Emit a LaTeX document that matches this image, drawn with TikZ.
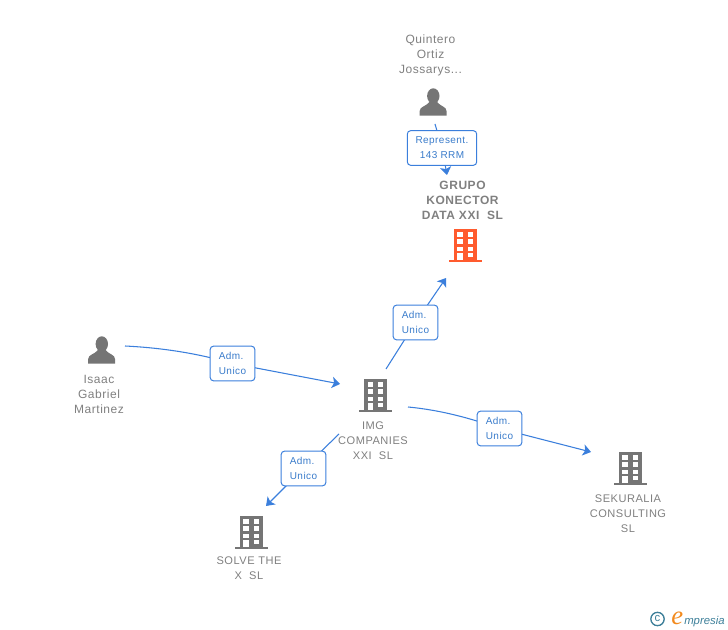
\documentclass[tikz,border=0pt]{standalone}
\usepackage{fontspec}
\setmainfont{Liberation Sans}
\newfontfamily\spacedfont[LetterSpace=4.5]{Liberation Sans}
\newfontfamily\logofont{Liberation Serif}
\usetikzlibrary{arrows.meta}
\definecolor{linkblue}{HTML}{3B7FDC}
\definecolor{labblue}{HTML}{3A7CCB}
\definecolor{icongray}{HTML}{757575}
\definecolor{txtgray}{HTML}{808080}
\definecolor{hot}{HTML}{FF5B2E}
\definecolor{logoteal}{HTML}{3D7F99}
\definecolor{logoorange}{HTML}{F28A1E}
\tikzset{
  conn/.style={draw=linkblue,line width=0.8pt},
  connar/.style={conn,-{Stealth[length=6pt,width=8.5pt,inset=1.5pt]}},
  lab/.style={draw=linkblue,line width=0.75pt,rounded corners=2.5pt,fill=white,text=labblue,
    font=\spacedfont\fontsize{7.5}{11.2}\selectfont,align=left,minimum height=26pt,inner sep=0pt,minimum width=33.5pt},
  labc/.style={lab,align=center,minimum width=52pt},
  pname/.style={text=txtgray,font=\spacedfont\fontsize{9}{11.25}\selectfont,align=center,inner sep=0pt},
  bname/.style={text=txtgray,font=\spacedfont\fontsize{9}{11.25}\selectfont\bfseries,align=center,inner sep=0pt},
  dname/.style={text=txtgray,font=\spacedfont\fontsize{8.3}{11.25}\selectfont,align=center,inner sep=0pt},
  personicon/.pic={
    \fill[icongray] (0.3,-7) ellipse [x radius=6.2,y radius=7.7];
    \fill[icongray] (-13.3,12.7) -- (-13.3,8) .. controls (-13.3,3.5) and (-7,3.5) .. (-3.5,-1)
      -- (4,-1) .. controls (7.5,3.5) and (13.5,3.5) .. (13.5,8) -- (13.5,12.7) -- cycle;
  },
  buildingicon/.pic={
    \fill[pic actions] (-11.5,-17) rectangle (11.5,14);
    \fill[pic actions] (-16.5,14) rectangle (16.5,16.2);
    \foreach \yy in {-13.7,-6.7,0.7} {
      \fill[white] (-7.7,\yy) rectangle (-2.5,\yy+4.7);
      \fill[white] (2.5,\yy) rectangle (7.7,\yy+4.7);
    }
    \fill[white] (-7.7,7.3) rectangle (-2.5,14);
    \fill[white] (2.5,6.7) rectangle (7.7,11.3);
  }
}
\begin{document}
\begin{tikzpicture}[x=0.75pt,y=-0.75pt]
\useasboundingbox (0,0) rectangle (728,630);
% icons
\pic at (433,103) {personicon};
\pic at (101.5,351) {personicon};
\pic[fill=hot] at (465,246) {buildingicon};
\pic[fill=icongray] at (375.5,396) {buildingicon};
\pic[fill=icongray] at (630,469) {buildingicon};
\pic[fill=icongray] at (251,533) {buildingicon};
% names
\node[pname] (quintero) at (430.5,55.5) {Quintero\\Ortiz\\Jossarys...};
\node[pname] (isaac) at (99,394) {Isaac\\Gabriel\\Martinez};
\node[bname] (grupo) at (462.5,200) {GRUPO\\KONECTOR\\DATA XXI\ \ SL};
\node[dname] (img) at (373,440.5) {IMG\\COMPANIES\\XXI\ \ SL};
\node[dname] (seku) at (628,513.5) {SEKURALIA\\CONSULTING\\SL};
\node[dname] (solve) at (249,568) {SOLVE THE\\X\ \ SL};
% connector ends
\coordinate (q0) at (435,124);
\coordinate (q1) at (447,175);
\coordinate (i0) at (125,346);
\coordinate (i1) at (340,384);
\coordinate (g0) at (386,369);
\coordinate (g1) at (446,278);
\coordinate (k0) at (408,407);
\coordinate (k1) at (591,452);
\coordinate (s0) at (339,434);
\coordinate (s1) at (266,506);
% labels
\coordinate (lq) at (442,148);
\coordinate (li) at (232.5,363.5);
\coordinate (lg) at (415.5,322.5);
\coordinate (lk) at (499.5,428.5);
\coordinate (ls) at (303.5,468.5);
% connectors
\draw[connar] (q0) -- (lq) -- (q1);
\draw[connar] (i0) .. controls (165,348) and (200,354) .. (li) -- (i1);
\draw[connar] (g0) -- (lg) -- (g1);
\draw[connar] (k0) .. controls (440,410) and (470,418) .. (lk) -- (k1);
\draw[connar] (s0) -- (ls) -- (s1);
\node[labc] (lqn) at (lq) {Represent.\\143 RRM};
\node[lab] (lin) at (li) {Adm.\\Unico};
\node[lab] (lgn) at (lg) {Adm.\\Unico};
\node[lab] (lkn) at (lk) {Adm.\\Unico};
\node[lab] (lsn) at (ls) {Adm.\\Unico};
% logo
\node[circle,draw=logoteal,line width=1pt,text=logoteal,inner sep=0pt,minimum size=10pt,font=\fontsize{8.5}{8.5}\selectfont] (copy) at (657.5,619) {c};
\node[inner sep=0pt,anchor=base west,text=logoorange,font=\logofont\fontsize{20}{20}\selectfont\itshape] (e) at (671,624.5) {e};
\node[inner sep=0pt,anchor=base west,text=logoteal,font=\fontsize{8.5}{10}\selectfont\itshape] (mp) at (684,624) {mpresia};
\end{tikzpicture}
\end{document}
